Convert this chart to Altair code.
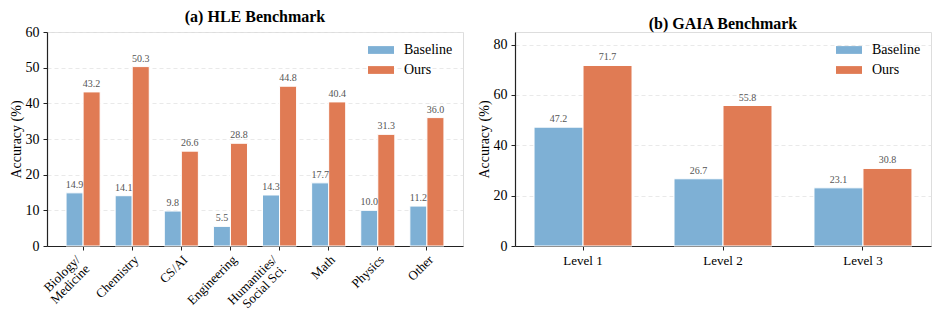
import altair as alt
import pandas as pd

FONT = "Liberation Serif"

series = ["Baseline", "Ours"]
colors = ["#7eb0d5", "#e07b54"]

hle_categories = ["Biology/\nMedicine", "Chemistry", "CS/AI", "Engineering",
                  "Humanities/\nSocial Sci.", "Math", "Physics", "Other"]
hle_baseline = [14.9, 14.1, 9.8, 5.5, 14.3, 17.7, 10.0, 11.2]
hle_ours = [43.2, 50.3, 26.6, 28.8, 44.8, 40.4, 31.3, 36.0]
hle_ticks = [0, 10, 20, 30, 40, 50, 60]

gaia_levels = ["Level 1", "Level 2", "Level 3"]
gaia_baseline = [47.2, 26.7, 23.1]
gaia_ours = [71.7, 55.8, 30.8]
gaia_ticks = [0, 20, 40, 60, 80]


def make_df(cats, base, ours):
    rows = []
    for c, b, o in zip(cats, base, ours):
        rows.append({"category": c, "series": "Baseline", "value": b})
        rows.append({"category": c, "series": "Ours", "value": o})
    return pd.DataFrame(rows)


def panel(df, cats, ymax, yticks, title, pin, pout, angle):
    if angle:
        xaxis = alt.Axis(labelAngle=-45, labelAlign="right", labelBaseline="top",
                         labelExpr="split(datum.label, '\\n')", labelFontSize=13,
                         labelFont=FONT, labelColor="black", tickSize=4,
                         tickColor="#222", domainColor="#222", domainWidth=1.2,
                         labelPadding=3, labelLineHeight=13,
                         labelOffset={"condition": {"test": "length(split(datum.label, '\\n')) > 1",
                                                    "value": -9}, "value": 0})
    else:
        xaxis = alt.Axis(labelAngle=0, labelFontSize=13, labelFont=FONT, labelColor="black",
                         tickSize=4, tickColor="#222", domainColor="#222", domainWidth=1.2,
                         labelPadding=4)
    base = alt.Chart(df).encode(
        x=alt.X("category:N", sort=cats, title=None,
                scale=alt.Scale(paddingInner=pin, paddingOuter=pout), axis=xaxis),
        xOffset=alt.XOffset("series:N", sort=series, scale=alt.Scale(paddingInner=0, paddingOuter=0)),
        y=alt.Y("value:Q", title="Accuracy (%)",
                scale=alt.Scale(domain=[0, ymax], nice=False, zero=True),
                axis=alt.Axis(values=yticks, labelFontSize=14, labelFont=FONT, labelColor="black",
                              titleFont=FONT, titleFontSize=14, titleFontWeight="normal",
                              titleColor="black", titlePadding=2, tickSize=4, tickColor="#222",
                              domainColor="#222", domainWidth=1.2, labelPadding=4,
                              grid=True, gridDash=[4, 3], gridColor="#e3e3e3", gridWidth=0.8)),
    )
    bars = base.mark_bar(stroke="white", strokeWidth=1).encode(
        color=alt.Color("series:N", sort=series,
                        scale=alt.Scale(domain=series, range=colors),
                        legend=alt.Legend(title=None, orient="none", legendX=321, legendY=5,
                                          symbolType="M-1,-0.3H1V0.3H-1Z", symbolSize=676,
                                          symbolStrokeWidth=0, labelFontSize=14, labelFont=FONT,
                                          labelColor="black", rowPadding=0, labelOffset=10,
                                          padding=0))
    )
    text = base.mark_text(baseline="bottom", dy=-3, fontSize=10, font=FONT, color="#555").encode(
        text=alt.Text("value:Q", format=".1f")
    )
    return (bars + text).properties(
        width=416, height=214,
        title=alt.TitleParams(title, font=FONT, fontSize=16, fontWeight="bold", color="black",
                              anchor="middle", frame="group", offset=0),
    )


left = panel(make_df(hle_categories, hle_baseline, hle_ours), hle_categories, 60, hle_ticks,
             "(a) HLE Benchmark", 0.306, 0.388, True)
right = panel(make_df(gaia_levels, gaia_baseline, gaia_ours), gaia_levels, 85, gaia_ticks,
              "(b) GAIA Benchmark", 0.3, 0.136, False)

chart = alt.hconcat(left, right, spacing=12).resolve_legend(color="independent").resolve_scale(
    color="shared", xOffset="independent").properties(
    padding={"left": 0, "top": 0, "right": 0, "bottom": 0}
).configure_view(strokeOpacity=0).configure(background="white", font=FONT)

chart.save("out.html", embed_options={"renderer": "svg", "actions": False})
